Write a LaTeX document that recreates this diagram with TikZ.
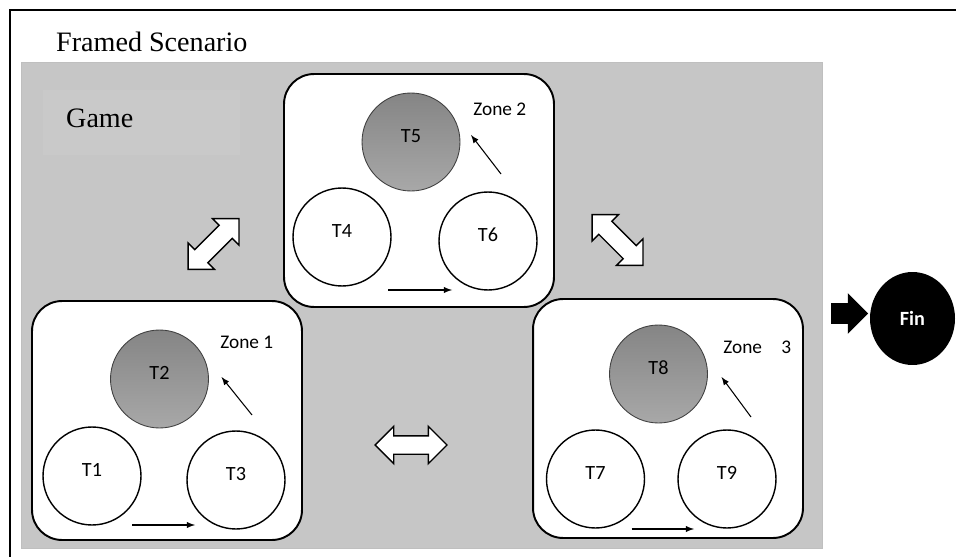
\documentclass[tikz,border=0pt]{standalone}
\usepackage{fontspec}
\setmainfont{Liberation Serif}
\newfontfamily\calibri{Carlito}
\usetikzlibrary{calc,positioning,shapes.geometric,shapes.arrows}
\definecolor{colorbg}{HTML}{C6C6C6}
\definecolor{colorgame}{HTML}{C9C9C9}
\definecolor{colortop}{HTML}{858585}
\definecolor{colorbot}{HTML}{A8A8A8}
\tikzset{
  zonebox/.style={draw, line width=1.1pt, fill=white, rounded corners=0.6cm, minimum width=5.4cm, inner sep=0pt},
  task/.style={circle, draw, line width=0.8pt, fill=white, minimum size=1.96cm, inner sep=0pt,
    font=\calibri\fontsize{11.5}{13}\selectfont, text depth=0.24cm},
  taskon/.style={task, line width=0.5pt, draw=black!75, top color=colortop, bottom color=colorbot},
  zonelbl/.style={anchor=west, inner sep=0pt, font=\calibri\fontsize{11}{13}\selectfont},
  flow/.style={black, line width=0.6pt, -latex},
  moveboth/.style={double arrow, draw, fill=white, line width=0.8pt, minimum height=1.44cm,
    inner xsep=0pt, inner ysep=0.17cm, double arrow head extend=0.19cm},
  goarrow/.style={single arrow, fill=black, minimum height=0.74cm,
    inner xsep=0pt, inner ysep=0.2cm, single arrow head extend=0.2cm},
  fin/.style={ellipse, fill=black, text=white, minimum width=1.7cm, minimum height=1.86cm,
    font=\calibri\bfseries\fontsize{11.5}{13}\selectfont}
}

\begin{document}
\begin{tikzpicture}[x=0.02cm, y=-0.02cm]
\useasboundingbox (0,0) rectangle (956,557);
% frame and game area
\draw[line width=1.1pt] (10,557) |- (956,10);
\filldraw[fill=colorbg, draw=black!25] (21,62) rectangle (822,548);
\fill[colorgame] (43,90) rectangle (240,155);
\node[anchor=west, font=\fontsize{16}{19}\selectfont] (scen) at (50,42) {Framed Scenario};
\node[anchor=west, font=\fontsize{16}{19}\selectfont] (game) at (60,118) {Game};

% zones
\node[zonebox, minimum height=4.78cm] (z1) at (167,420.5) {};
\node[zonebox, minimum height=4.66cm] (z2) at (419,190.5) {};
\node[zonebox, minimum height=4.78cm] (z3) at (668,418.5) {};

% zone 1
\node[taskon] (t2) at (159.5,379) {T2};
\node[task] (t1) at (92,476) {T1};
\node[task] (t3) at (236,480) {T3};
\node[zonelbl] (l1) at (220,342) {Zone 1};
\draw[flow] ($(t1)+(40,49)$) -- ($(t3)+(-41,45)$);
\draw[flow] ($(t3)+(16,-65)$) -- ($(t2)+(62,-2)$);

% zone 2
\node[taskon] (t5) at (411,142) {T5};
\node[task] (t4) at (342,237) {T4};
\node[task] (t6) at (488,241) {T6};
\node[zonelbl] (l2) at (473,109) {Zone 2};
\draw[flow] ($(t4)+(46,53)$) -- ($(t6)+(-36,49)$);
\draw[flow] ($(t6)+(13,-67)$) -- ($(t5)+(60,-7)$);

% zone 3
\node[taskon] (t8) at (658.5,374) {T8};
\node[task] (t7) at (595.5,479) {T7};
\node[task] (t9) at (727,479) {T9};
\node[zonelbl] (l3) at (723,347) {Zone\quad3};
\draw[flow] ($(t7)+(36,50)$) -- ($(t9)+(-33,50)$);
\draw[flow] ($(t9)+(24,-62)$) -- ($(t8)+(63,3)$);

% moves between zones
\node[moveboth, rotate=45] (m12) at (213.5,244) {};
\node[moveboth, rotate=-45] (m23) at (617.5,240) {};
\node[moveboth] (m13) at (411,445) {};

% end
\node[fin] (fin) at (912.5,318.5) {Fin};
\node[goarrow, left=0.02cm of fin, yshift=0.1cm] (go) {};
\end{tikzpicture}
\end{document}
